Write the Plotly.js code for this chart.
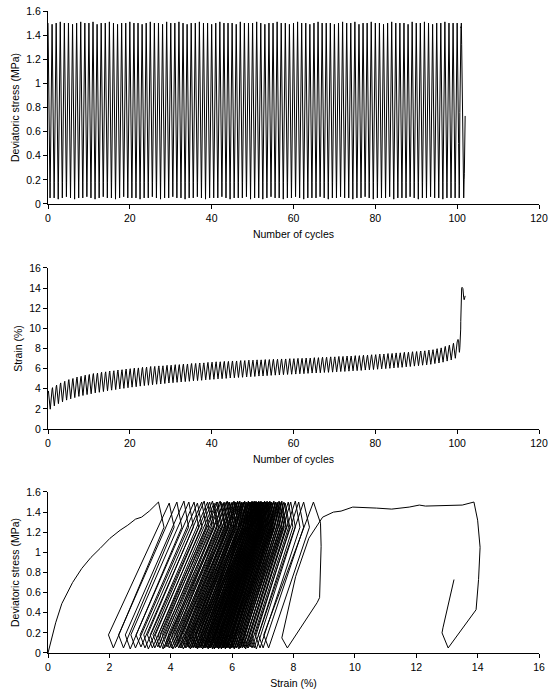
<!DOCTYPE html>
<html>
<head>
<meta charset="utf-8">
<script src="https://cdn.plot.ly/plotly-3.0.1.min.js"></script>
<style>
  html, body { margin: 0; padding: 0; background: #ffffff; }
  #chart { width: 550px; height: 697px; }
</style>
</head>
<body>
<div id="chart"></div>
<script>
// ---------------- DATA ----------------
// Axis tick labels / titles
const cycleAxisTitle = "Number of cycles";
const stressAxisTitle = "Deviatoric stress (MPa)";
const strainAxisTitle = "Strain (%)";

// Initial (monotonic) loading branch, stress-strain plot
const initStrain = [0, 0.12, 0.25, 0.45, 0.62, 0.80, 1.10, 1.40, 1.70, 2.02, 2.35, 2.60, 2.85, 3.05, 3.30, 3.60];
const initStress = [0, 0.15, 0.30, 0.49, 0.60, 0.70, 0.84, 0.95, 1.04, 1.14, 1.22, 1.27, 1.33, 1.35, 1.41, 1.50];

// Regular cycles 0..99 : stress at peak / trough (MPa)
const stressPeak = [
1.50,1.49,1.50,1.51,1.50,1.50,1.49,1.50,1.51,1.50,
1.50,1.51,1.49,1.50,1.50,1.51,1.50,1.49,1.50,1.50,
1.51,1.50,1.50,1.49,1.50,1.51,1.50,1.50,1.49,1.51,
1.50,1.50,1.51,1.50,1.49,1.50,1.50,1.51,1.50,1.50,
1.49,1.50,1.51,1.50,1.50,1.50,1.49,1.51,1.50,1.50,
1.50,1.51,1.50,1.49,1.50,1.50,1.51,1.50,1.50,1.49,
1.50,1.51,1.50,1.50,1.49,1.50,1.51,1.50,1.50,1.50,
1.49,1.50,1.51,1.50,1.50,1.51,1.49,1.50,1.50,1.51,
1.50,1.50,1.49,1.50,1.51,1.50,1.50,1.50,1.49,1.51,
1.50,1.50,1.51,1.50,1.49,1.50,1.50,1.51,1.50,1.50];
const stressTrough = [
0.05,0.05,0.04,0.05,0.06,0.05,0.04,0.05,0.05,0.06,
0.05,0.04,0.05,0.06,0.05,0.05,0.04,0.05,0.06,0.05,
0.05,0.05,0.04,0.05,0.05,0.06,0.05,0.04,0.05,0.05,
0.06,0.05,0.05,0.04,0.05,0.05,0.06,0.05,0.04,0.05,
0.05,0.05,0.06,0.05,0.04,0.05,0.05,0.05,0.06,0.04,
0.05,0.05,0.04,0.05,0.06,0.05,0.05,0.04,0.05,0.05,
0.06,0.05,0.04,0.05,0.05,0.05,0.06,0.05,0.04,0.05,
0.05,0.06,0.05,0.05,0.04,0.05,0.05,0.06,0.05,0.04,
0.05,0.05,0.05,0.06,0.04,0.05,0.05,0.05,0.06,0.05,
0.04,0.05,0.05,0.06,0.05,0.05,0.04,0.05,0.05,0.05];

// Regular cycles 0..99 : strain (%) at the peak, on the creep point after the peak,
// at the stress trough, and the minimum (knee) at the start of reloading
const peakStrain = [
3.60,3.95,4.20,4.43,4.59,4.76,4.87,5.01,5.09,5.20,
5.27,5.36,5.41,5.49,5.53,5.61,5.64,5.71,5.74,5.81,
5.84,5.90,5.92,5.98,6.00,6.06,6.07,6.12,6.13,6.18,
6.19,6.24,6.25,6.30,6.31,6.36,6.37,6.41,6.42,6.47,
6.49,6.53,6.53,6.57,6.57,6.61,6.61,6.65,6.65,6.69,
6.69,6.72,6.72,6.75,6.75,6.78,6.78,6.81,6.81,6.84,
6.84,6.87,6.87,6.90,6.90,6.94,6.94,6.98,6.98,7.02,
7.02,7.06,7.06,7.10,7.10,7.14,7.14,7.18,7.19,7.23,
7.24,7.29,7.30,7.35,7.36,7.41,7.42,7.47,7.48,7.53,
7.55,7.60,7.62,7.69,7.73,7.83,7.91,8.06,8.17,8.33];
const creepStrain = [
3.78,4.11,4.36,4.58,4.74,4.91,5.02,5.16,5.24,5.35,
5.42,5.51,5.56,5.64,5.68,5.76,5.79,5.86,5.89,5.96,
5.99,6.05,6.07,6.13,6.15,6.21,6.22,6.27,6.28,6.33,
6.34,6.39,6.40,6.45,6.46,6.51,6.52,6.56,6.57,6.62,
6.64,6.68,6.68,6.72,6.72,6.76,6.76,6.80,6.80,6.84,
6.84,6.87,6.87,6.90,6.90,6.93,6.93,6.96,6.96,6.99,
6.99,7.02,7.02,7.05,7.05,7.09,7.09,7.13,7.13,7.17,
7.17,7.21,7.21,7.25,7.25,7.29,7.29,7.33,7.34,7.38,
7.39,7.44,7.45,7.50,7.51,7.56,7.57,7.62,7.63,7.68,
7.70,7.75,7.77,7.84,7.88,7.98,8.06,8.21,8.33,8.52];
const troughStrain = [
2.13,2.46,2.68,2.85,3.03,3.16,3.27,3.40,3.48,3.58,
3.65,3.75,3.80,3.88,3.95,4.02,4.07,4.15,4.19,4.26,
4.31,4.36,4.41,4.47,4.50,4.56,4.60,4.64,4.67,4.73,
4.75,4.80,4.83,4.87,4.89,4.95,4.96,5.00,5.04,5.07,
5.09,5.14,5.15,5.19,5.22,5.25,5.27,5.30,5.33,5.36,
5.37,5.42,5.42,5.46,5.48,5.51,5.52,5.56,5.57,5.60,
5.61,5.65,5.65,5.69,5.71,5.73,5.74,5.78,5.78,5.81,
5.83,5.87,5.87,5.91,5.93,5.96,5.97,6.02,6.03,6.07,
6.09,6.14,6.15,6.19,6.22,6.26,6.28,6.34,6.36,6.41,
6.44,6.50,6.53,6.59,6.65,6.72,6.79,6.91,7.01,7.19];
const kneeStrain = [
1.97,2.30,2.52,2.70,2.87,3.00,3.12,3.24,3.33,3.42,
3.50,3.59,3.65,3.72,3.80,3.86,3.92,3.99,4.04,4.10,
4.16,4.20,4.26,4.31,4.35,4.40,4.45,4.48,4.52,4.57,
4.60,4.64,4.68,4.71,4.74,4.79,4.81,4.84,4.89,4.91,
4.94,4.98,5.00,5.03,5.07,5.09,5.12,5.14,5.18,5.20,
5.22,5.26,5.27,5.30,5.33,5.35,5.37,5.40,5.42,5.44,
5.46,5.49,5.50,5.53,5.56,5.57,5.59,5.62,5.63,5.65,
5.68,5.71,5.72,5.75,5.78,5.80,5.82,5.86,5.88,5.91,
5.94,5.98,6.00,6.03,6.07,6.10,6.13,6.18,6.21,6.25,
6.29,6.34,6.38,6.43,6.50,6.56,6.64,6.75,6.86,7.03];
const creepStress = 1.25;   // MPa, on the unloading branch just after each peak
const kneeStress = 0.18;    // MPa, at the start of each reloading branch

// Last regular cycle (100) and the failure cycle
const finalCycle = [100, 100.1, 100.2, 100.3, 100.35, 100.5, 100.55, 100.65, 100.72, 100.78, 100.82, 100.84, 100.86, 100.88, 100.9, 100.92, 100.94, 100.96, 100.98, 101.0, 101.02, 101.1, 101.2, 101.3, 101.4, 101.6, 101.7, 101.75, 101.95];
const finalStrain = [8.65, 8.88, 8.90, 8.85, 8.77, 7.80, 7.62, 8.07, 8.50, 8.95, 9.30, 9.55, 9.93, 10.70, 11.20, 11.77, 12.10, 12.30, 13.07, 13.50, 13.88, 14.00, 14.08, 14.03, 13.95, 13.04, 12.84, 12.87, 13.23];
const finalStress = [1.50, 1.29, 1.06, 0.55, 0.50, 0.05, 0.15, 0.76, 1.14, 1.35, 1.40, 1.41, 1.45, 1.44, 1.43, 1.45, 1.47, 1.46, 1.47, 1.47, 1.50, 1.32, 1.05, 0.73, 0.43, 0.05, 0.20, 0.25, 0.73];

// ---------------- BUILD the time series from the per-cycle values ----------------
const PHASE = { peak: 0, creep: 0.1, trough: 0.5, knee: 0.55 };
const cyc = [], sig = [], eps = [];
for (let i = 0; i < peakStrain.length; i++) {
  cyc.push(i + PHASE.peak);   sig.push(stressPeak[i]);   eps.push(peakStrain[i]);
  cyc.push(i + PHASE.creep);  sig.push(creepStress);     eps.push(creepStrain[i]);
  cyc.push(i + PHASE.trough); sig.push(stressTrough[i]); eps.push(troughStrain[i]);
  cyc.push(i + PHASE.knee);   sig.push(kneeStress);      eps.push(kneeStrain[i]);
}
for (let k = 0; k < finalCycle.length; k++) {
  cyc.push(finalCycle[k]); sig.push(finalStress[k]); eps.push(finalStrain[k]);
}
const loopStrain = initStrain.concat(eps.slice(1));
const loopStress = initStress.concat(sig.slice(1));

const lineStyle = { color: '#000000', width: 1 };
const traces = [
  { x: cyc, y: sig, type: 'scatter', mode: 'lines', line: lineStyle, xaxis: 'x', yaxis: 'y', hoverinfo: 'skip' },
  { x: cyc, y: eps, type: 'scatter', mode: 'lines', line: lineStyle, xaxis: 'x2', yaxis: 'y2', hoverinfo: 'skip' },
  { x: loopStrain, y: loopStress, type: 'scatter', mode: 'lines', line: lineStyle, xaxis: 'x3', yaxis: 'y3', hoverinfo: 'skip' }
];

const FONT = { family: 'Liberation Sans, Arial, sans-serif', size: 10.5, color: '#000000' };
function axisBase(extra) {
  return Object.assign({
    showline: true, linecolor: '#000000', linewidth: 1,
    ticks: 'outside', ticklen: 4, tickwidth: 1, tickcolor: '#000000',
    showgrid: false, zeroline: false, tickfont: FONT, fixedrange: true
  }, extra);
}

const layout = {
  width: 550, height: 697,
  margin: { l: 48, r: 11, t: 11, b: 44 },
  paper_bgcolor: '#ffffff', plot_bgcolor: '#ffffff',
  showlegend: false,
  font: FONT,
  xaxis: axisBase({ domain: [0, 1], anchor: 'y', range: [0, 120], dtick: 20, tick0: 0,
    title: { text: cycleAxisTitle, font: FONT, standoff: 8 } }),
  yaxis: axisBase({ domain: [0.6994, 1], anchor: 'x', range: [0, 1.6], dtick: 0.2, tick0: 0,
    title: { text: stressAxisTitle, font: FONT, standoff: 4 } }),
  xaxis2: axisBase({ domain: [0, 1], anchor: 'y2', range: [0, 120], dtick: 20, tick0: 0,
    title: { text: cycleAxisTitle, font: FONT, standoff: 8 } }),
  yaxis2: axisBase({ domain: [0.3489, 0.5997], anchor: 'x2', range: [0, 16], dtick: 2, tick0: 0,
    title: { text: strainAxisTitle, font: FONT, standoff: 4 } }),
  xaxis3: axisBase({ domain: [0, 1], anchor: 'y3', range: [0, 16], dtick: 2, tick0: 0,
    title: { text: strainAxisTitle, font: FONT, standoff: 8 } }),
  yaxis3: axisBase({ domain: [0, 0.2508], anchor: 'x3', range: [0, 1.6], dtick: 0.2, tick0: 0,
    title: { text: stressAxisTitle, font: FONT, standoff: 4 } })
};

Plotly.newPlot('chart', traces, layout, { staticPlot: true, displayModeBar: false });
</script>
</body>
</html>
